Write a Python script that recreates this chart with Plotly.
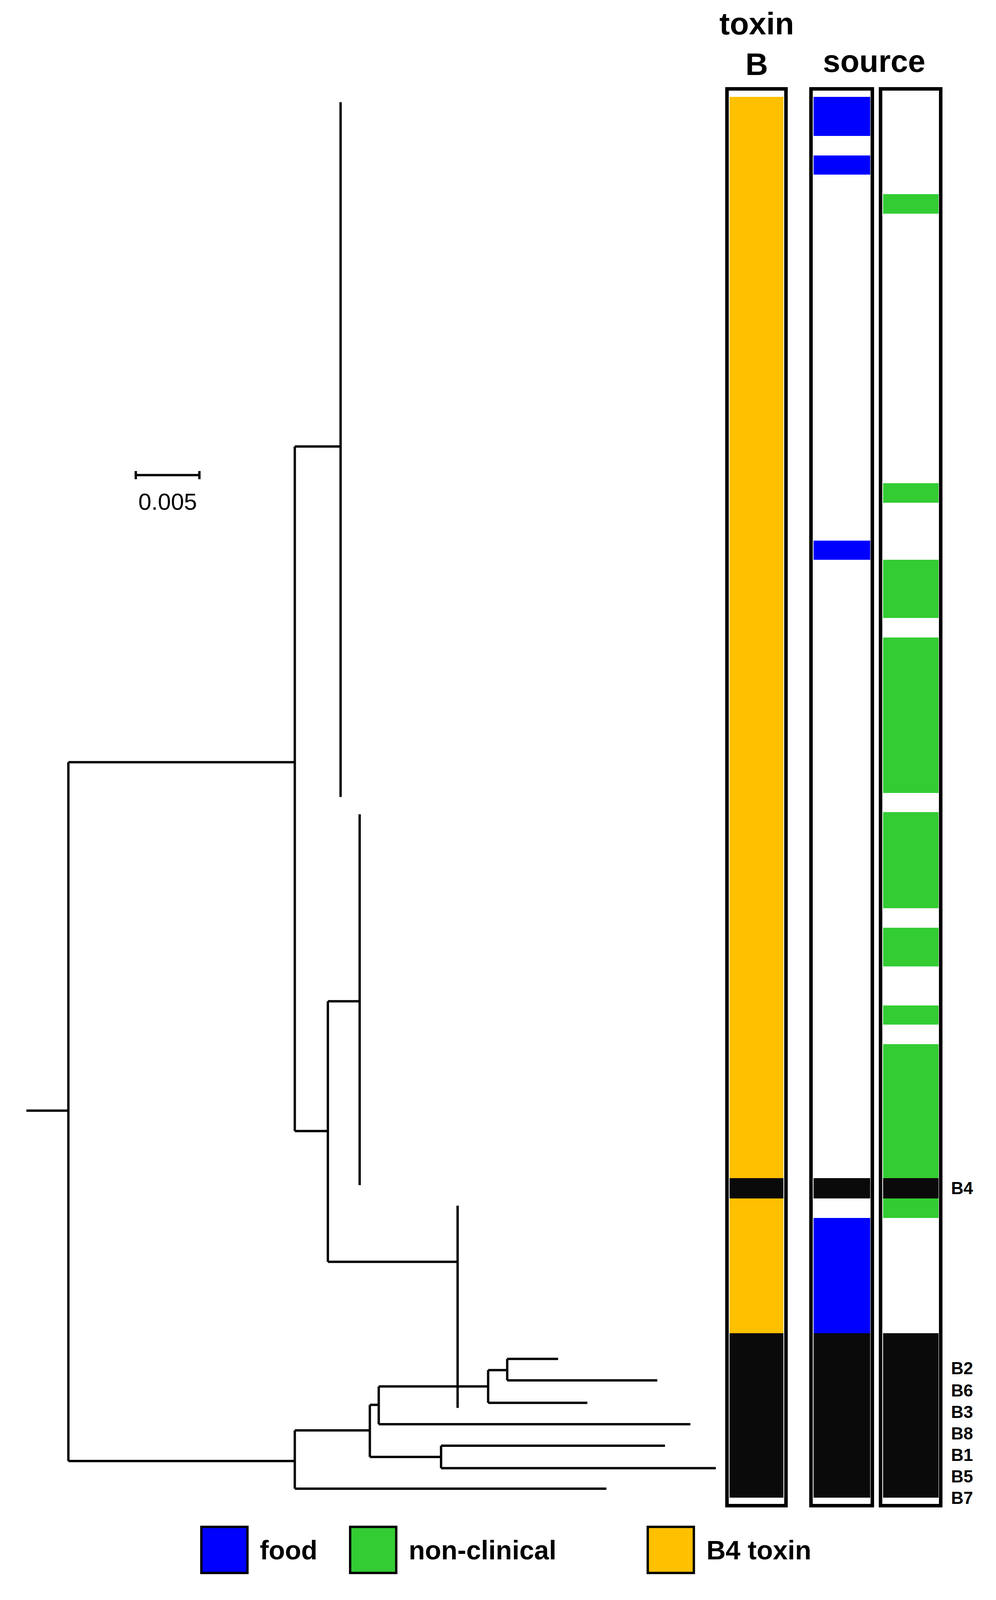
import plotly.graph_objects as go

# ---- data (y in row units top->bottom, x in substitutions/site) ----
tree_h = [  # horizontal branches: (x_start, x_end, y)
    (0.0000, 0.0033, 1087), (0.0033, 0.0211, 746), (0.0211, 0.0247, 437),
    (0.0211, 0.0237, 1107), (0.0237, 0.0262, 980), (0.0237, 0.0339, 1235),
    (0.0033, 0.0211, 1430), (0.0211, 0.0270, 1400), (0.0270, 0.0277, 1375),
    (0.0277, 0.0363, 1357), (0.0363, 0.0378, 1341), (0.0378, 0.0418, 1330),
    (0.0378, 0.0496, 1351), (0.0363, 0.0441, 1373), (0.0277, 0.0522, 1394),
    (0.0270, 0.0326, 1426), (0.0326, 0.0502, 1415), (0.0326, 0.0542, 1437),
    (0.0211, 0.0456, 1457),
]
tree_v = [  # vertical connectors: (x, y_top, y_bottom)
    (0.0033, 746, 1430), (0.0211, 437, 1107), (0.0247, 100, 780),
    (0.0237, 980, 1235), (0.0262, 797, 1160), (0.0339, 1180, 1378),
    (0.0211, 1400, 1457), (0.0270, 1375, 1426), (0.0277, 1357, 1394),
    (0.0363, 1341, 1373), (0.0378, 1330, 1351), (0.0326, 1415, 1437),
]
scale_bar = (0.0086, 0.0136, 465)
scale_label = "0.005"

col_x = [630.5, 701.5, 759]
col_top, col_bottom = 87, 1474
BLUE, GREEN, ORANGE, BLACK = "#0000FF", "#33CC33", "#FFC000", "#0A0A0A"
toxin_segments = [(95, 1153, ORANGE), (1153, 1173, BLACK), (1173, 1305, ORANGE), (1305, 1466, BLACK)]
food_segments = [(95, 133, BLUE), (152, 171, BLUE), (529, 548, BLUE), (1153, 1173, BLACK),
                 (1192, 1305, BLUE), (1305, 1466, BLACK)]
nonclin_segments = [(190, 209, GREEN), (473, 492, GREEN), (548, 605, GREEN), (624, 776, GREEN),
                    (795, 889, GREEN), (908, 946, GREEN), (984, 1003, GREEN), (1022, 1153, GREEN),
                    (1153, 1173, BLACK), (1173, 1192, GREEN), (1305, 1466, BLACK)]
all_segments = [toxin_segments, food_segments, nonclin_segments]

tip_labels = ["B4", "B2", "B6", "B3", "B8", "B1", "B5", "B7"]
tip_label_y = [1163, 1339, 1361, 1382, 1403, 1424, 1445, 1466]

legend_labels = ["food", "non-clinical", "B4 toxin"]
legend_colors = [BLUE, GREEN, ORANGE]
legend_x = [187, 311, 559]
legend_y = 1517

# ---- figure ----
DW, DH = 830, 1566  # layout units
fig = go.Figure()

xs, ys = [], []
for x0, x1, y in tree_h:
    xs += [x0, x1, None]; ys += [y, y, None]
for x, y0, y1 in tree_v:
    xs += [x, x, None]; ys += [y0, y1, None]
fig.add_trace(go.Scatter(x=xs, y=ys, mode="lines", xaxis="x2",
                         line=dict(color="black", width=6), hoverinfo="skip"))
sx0, sx1, sy = scale_bar
fig.add_trace(go.Scatter(x=[sx0, sx1, None, sx0, sx0, None, sx1, sx1],
                         y=[sy, sy, None, sy - 4, sy + 4, None, sy - 4, sy + 4],
                         mode="lines", xaxis="x2", line=dict(color="black", width=6), hoverinfo="skip"))
fig.add_annotation(x=(sx0 + sx1) / 2, y=sy + 26, xref="x2", yref="y", text=scale_label,
                   showarrow=False, font=dict(size=60, family="Liberation Sans", color="black"))

for cx, w in zip(col_x, [49, 51, 50]):
    fig.add_trace(go.Bar(x=[cx], y=[col_bottom - col_top], base=[col_top], width=[w],
                         marker=dict(color="white", line=dict(color="black", width=9)), hoverinfo="skip"))
for cx, w, segs in zip(col_x, [45, 47, 46], all_segments):
    fig.add_trace(go.Bar(x=[cx] * len(segs), y=[b - a for a, b, c in segs], base=[a for a, b, c in segs],
                         width=[w] * len(segs),
                         marker=dict(color=[c for a, b, c in segs], line=dict(width=0)), hoverinfo="skip"))

fig.add_annotation(x=col_x[0], y=43, text="<b>toxin<br>B</b>", showarrow=False,
                   font=dict(size=80, family="Liberation Sans", color="black"))
fig.add_annotation(x=col_x[1] + 27, y=60, text="<b>source</b>", showarrow=False,
                   font=dict(size=80, family="Liberation Sans", color="black"))

for lab, y in zip(tip_labels, tip_label_y):
    fig.add_annotation(x=792, y=y, text="<b>%s</b>" % lab, showarrow=False, xanchor="left",
                       font=dict(size=44, family="Liberation Sans", color="black"))

fig.add_trace(go.Scatter(x=legend_x, y=[legend_y] * 3, mode="markers",
                         marker=dict(symbol="square", size=118, color=legend_colors,
                                     line=dict(color="black", width=6)), hoverinfo="skip"))
for lab, x in zip(legend_labels, legend_x):
    fig.add_annotation(x=x + 29, y=legend_y, text="<b>%s</b>" % lab, showarrow=False, xanchor="left",
                       font=dict(size=68, family="Liberation Sans", color="black"))

k = 0.005 / 53
fig.update_layout(
    autosize=True, margin=dict(l=0, r=0, t=0, b=0), paper_bgcolor="white", plot_bgcolor="white",
    showlegend=False, barmode="overlay", bargap=0,
    xaxis=dict(range=[0, DW], visible=False, fixedrange=True),
    xaxis2=dict(range=[-22 * k, (DW - 22) * k], overlaying="x", visible=False),
    yaxis=dict(range=[DH, 0], visible=False),
)
fig.write_html("out.html", default_width="100vw", default_height="100vh",
               config={"responsive": True, "displayModeBar": False})
with open("out.html") as f:
    html = f.read()
html = html.replace("<body>", '<body style="margin:0;overflow:hidden">', 1)
with open("out.html", "w") as f:
    f.write(html)
